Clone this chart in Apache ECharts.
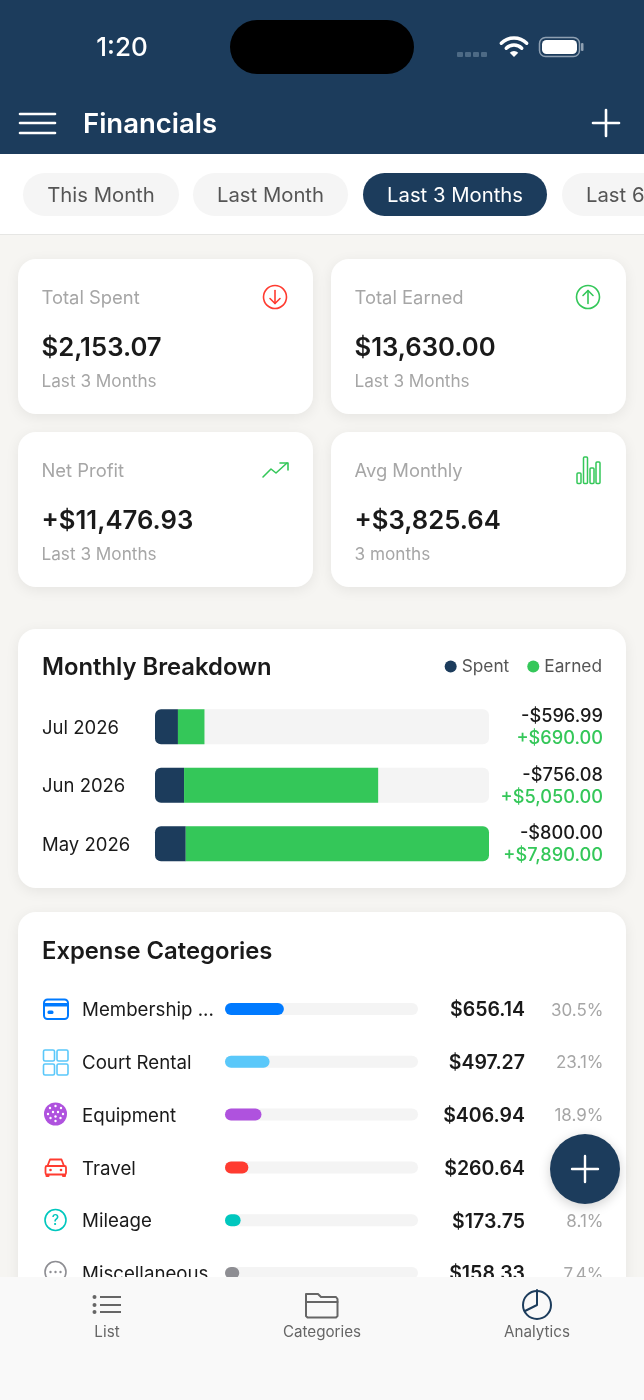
<!DOCTYPE html>
<html>

<head>
	<meta charset="utf-8">
	<title>Financials</title>
	<style type="text/css">
	html, body {
		margin: 0;
		padding: 0;
		background: #f6f5f2;
	}

	#main {
		width: 644px;
		height: 1400px;
	}
	</style>
</head>

<body>
	<div id="main"></div>
	<script src="https://cdn.jsdelivr.net/npm/echarts@6/dist/echarts.min.js"></script>
	<script>
	var months = ['Jul 2026', 'Jun 2026', 'May 2026'];
	var spentValues = [596.99, 756.08, 800.00];
	var earnedValues = [690.00, 5050.00, 7890.00];

	var categoryNames = ['Membership ...', 'Court Rental', 'Equipment', 'Travel', 'Mileage', 'Miscellaneous'];
	var categoryAmounts = [656.14, 497.27, 406.94, 260.64, 173.75, 158.33];
	var categoryPercents = [30.5, 23.1, 18.9, 12.1, 8.1, 7.4];
	var categoryColors = ['#007aff', '#5ac8fa', '#af52de', '#ff3b30', '#00c7be', '#8e8e93'];

	var pillLabels = ['This Month', 'Last Month', 'Last 3 Months', 'Last 6 Months'];
	var summaryLabels = ['Total Spent', 'Total Earned', 'Net Profit', 'Avg Monthly'];
	var summaryValues = ['$2,153.07', '$13,630.00', '+$11,476.93', '+$3,825.64'];
	var summaryNotes = ['Last 3 Months', 'Last 3 Months', 'Last 3 Months', '3 months'];
	var tabLabels = ['List', 'Categories', 'Analytics'];

	var NAVY = '#1c3c5c';
	var GREEN = '#34c759';
	var FONT = 'Inter, sans-serif';

	function money(v) {
		return '$' + v.toFixed(2).replace(/\B(?=(\d{3})+\.)/g, ',');
	}

	var els = [];

	function rect(x, y, w, h, r, fill, z, extra) {
		var style = { fill: fill };
		for (var k in extra) style[k] = extra[k];
		els.push({ type: 'rect', z: z, shape: { x: x, y: y, width: w, height: h, r: r }, style: style });
	}

	function text(str, x, y, font, fill, z, align) {
		// Inter sits a little high against the middle line
		els.push({
			type: 'text', z: z, x: x, y: y + 1.5,
			style: { text: str, font: font + ' ' + FONT, fill: fill, align: align || 'left', verticalAlign: 'middle' }
		});
	}

	function line(pts, color, w, z, cap) {
		els.push({
			type: 'polyline', z: z, shape: { points: pts },
			style: { stroke: color, lineWidth: w, fill: 'none', lineCap: cap || 'round', lineJoin: 'round' }
		});
	}

	function circle(cx, cy, r, fill, stroke, w, z) {
		els.push({
			type: 'circle', z: z, shape: { cx: cx, cy: cy, r: r },
			style: { fill: fill || 'none', stroke: stroke || 'none', lineWidth: w || 0 }
		});
	}

	function arc(cx, cy, r, a0, a1, color, w, z) {
		els.push({
			type: 'arc', z: z, shape: { cx: cx, cy: cy, r: r, startAngle: a0, endAngle: a1, clockwise: true },
			style: { stroke: color, lineWidth: w, fill: 'none', lineCap: 'round' }
		});
	}

	function strokeRect(x, y, w, h, r, color, lw, z) {
		rect(x, y, w, h, r, 'none', z, { stroke: color, lineWidth: lw });
	}

	// axis labels go through a rich token so the padding can nudge them down
	function tokenLabel(v) {
		return '{t|' + v + '}';
	}

	// page and header
	rect(0, 0, 644, 1400, 0, '#f6f5f2', -20);
	rect(0, 0, 644, 154, 0, NAVY, -10);
	rect(0, 154, 644, 80, 0, '#ffffff', -10);
	rect(0, 234, 644, 1, 0, '#e6e6e4', -10);

	// status bar
	text('1:20', 122, 47, '500 26px', '#ffffff', 5, 'center');
	rect(230, 20, 184, 54, 27, '#000000', 5);
	[457, 465, 473, 481].forEach(function (x) {
		rect(x, 52, 6, 5, 1, '#4d6a85', 5);
	});
	arc(514, 56, 18, -Math.PI * 0.75, -Math.PI * 0.25, '#ffffff', 3.4, 5);
	arc(514, 56, 11, -Math.PI * 0.75, -Math.PI * 0.25, '#ffffff', 3.4, 5);
	els.push({
		type: 'sector', z: 5,
		shape: { cx: 514, cy: 57, r: 6, startAngle: -Math.PI * 0.75, endAngle: -Math.PI * 0.25 },
		style: { fill: '#ffffff' }
	});
	strokeRect(539.5, 37.5, 40, 19, 6, '#8ea0b2', 1.5, 5);
	rect(542, 40, 35, 14, 4.5, '#ffffff', 5);
	rect(581, 43, 2.5, 8, 1, '#8ea0b2', 5);

	// app bar
	[114, 123, 133].forEach(function (y) {
		line([[20, y], [55, y]], '#ffffff', 2.6, 5);
	});
	text('Financials', 83, 123, '600 27.5px', '#ffffff', 5);
	line([[606, 110], [606, 136]], '#ffffff', 2.6, 5);
	line([[593, 123], [619, 123]], '#ffffff', 2.6, 5);

	// filter pills
	var pillX = [23, 193, 363, 562];
	var pillW = [156, 155, 184, 156];
	pillLabels.forEach(function (label, i) {
		var active = i === 2;
		rect(pillX[i], 173, pillW[i], 43, 21.5, active ? NAVY : '#f5f5f5', -5);
		if (i < 3) {
			text(label, pillX[i] + pillW[i] / 2, 194, '400 20.3px', active ? '#ffffff' : '#555555', 5, 'center');
		} else {
			text(label, pillX[i] + 24, 194, '400 20.3px', '#555555', 5);
		}
	});

	// summary cards
	var cardShadow = { shadowBlur: 14, shadowColor: 'rgba(0,0,0,0.07)', shadowOffsetY: 3 };
	var cardX = [18, 331];
	var cardY = [259, 432];
	summaryLabels.forEach(function (label, i) {
		var x = cardX[i % 2];
		var y = cardY[Math.floor(i / 2)];
		rect(x, y, 295, 155, 18, '#ffffff', -5, cardShadow);
		text(label, x + 23.5, y + 38, '400 18.4px', '#a6a6a6', 5);
		text(summaryValues[i], x + 23.5, y + 88, '600 25.7px', '#1a1a1a', 5);
		text(summaryNotes[i], x + 23.5, y + 121, '400 17.2px', '#a6a6a6', 5);
	});

	// summary icons
	circle(275, 297, 11.5, null, '#ff3b30', 1.6, 5);
	line([[275, 290.5], [275, 303.5]], '#ff3b30', 1.6, 5);
	line([[270, 298.5], [275, 303.5], [280, 298.5]], '#ff3b30', 1.6, 5);
	circle(588, 297, 11.5, null, GREEN, 1.6, 5);
	line([[588, 290.5], [588, 303.5]], GREEN, 1.6, 5);
	line([[583, 295.5], [588, 290.5], [593, 295.5]], GREEN, 1.6, 5);
	line([[263, 477], [271, 469], [276, 473], [287, 463]], GREEN, 1.6, 5);
	line([[280, 463], [288, 463], [288, 470]], GREEN, 1.6, 5);
	strokeRect(577, 473, 4, 10.5, 1, GREEN, 1.5, 5);
	strokeRect(583.5, 457, 4, 26.5, 1, GREEN, 1.5, 5);
	strokeRect(590, 468, 4, 15.5, 1, GREEN, 1.5, 5);
	strokeRect(596, 462, 4, 21.5, 1, GREEN, 1.5, 5);

	// breakdown and categories cards
	rect(18, 629, 608, 259, 18, '#ffffff', -5, cardShadow);
	rect(18, 912, 608, 420, 18, '#ffffff', -5, cardShadow);

	// category icons
	strokeRect(44, 999.5, 24, 19.5, 3.5, '#007aff', 2, 5);
	rect(44, 1003, 24, 3.5, 0, '#007aff', 5);
	rect(47.5, 1010.5, 6, 3.5, 1.5, '#007aff', 5);
	[[43.5, 1050], [57, 1050], [43.5, 1064], [57, 1064]].forEach(function (p) {
		strokeRect(p[0], p[1], 11, 11, 1.5, '#5ac8fa', 1.6, 5);
	});
	circle(55.5, 1114, 11.5, '#af52de', null, 0, 5);
	[[50, 1108], [55.5, 1106], [61, 1108], [48, 1114], [53, 1112], [58, 1112], [63, 1114], [50.5, 1118], [55.5, 1116.5], [60.5, 1118], [55.5, 1121]].forEach(function (p) {
		circle(p[0], p[1], 1.2, '#ffffff', null, 0, 6);
	});
	line([[47.5, 1166], [50, 1159.5], [61.5, 1159.5], [64, 1166]], '#ff3b30', 1.8, 5);
	strokeRect(45.5, 1166, 20.5, 8.5, 1.5, '#ff3b30', 1.8, 5);
	rect(45.5, 1174, 4, 3, 1, '#ff3b30', 5);
	rect(62, 1174, 4, 3, 1, '#ff3b30', 5);
	circle(50.5, 1170, 1.3, '#ff3b30', null, 0, 5);
	circle(61, 1170, 1.3, '#ff3b30', null, 0, 5);
	circle(55.5, 1220, 10.5, null, '#00c7be', 1.6, 5);
	text('?', 55.5, 1219, '500 14px', '#00c7be', 5, 'center');
	circle(55.5, 1272, 10.5, null, '#8e8e93', 1.6, 5);
	[50.5, 55.5, 60.5].forEach(function (x) {
		circle(x, 1272, 1.2, '#8e8e93', null, 0, 5);
	});

	// floating button
	els.push({
		type: 'circle', z: 50, shape: { cx: 585, cy: 1169, r: 35 },
		style: { fill: NAVY, shadowBlur: 12, shadowColor: 'rgba(0,0,0,0.18)', shadowOffsetY: 3 }
	});
	line([[585, 1156], [585, 1182]], '#ffffff', 2.4, 51);
	line([[572, 1169], [598, 1169]], '#ffffff', 2.4, 51);

	// bottom tab bar, sits over the clipped last row
	rect(0, 1277, 644, 123, 0, '#f9f9f9', 100);
	var tabX = [107, 322, 537];
	tabLabels.forEach(function (label, i) {
		text(label, tabX[i], 1330.5, '400 15.2px', '#666666', 101, 'center');
	});
	[1297, 1305, 1312].forEach(function (y) {
		circle(94.5, y, 2, '#666666', null, 0, 101);
		line([[100, y], [121, y]], '#666666', 2, 101, 'butt');
	});
	line([[306, 1296], [306, 1294], [318, 1294], [321, 1297], [336, 1297], [337.5, 1299], [337.5, 1316], [336, 1317.5], [307.5, 1317.5], [306, 1316], [306, 1296]], '#666666', 2, 101);
	line([[306, 1302], [337.5, 1302]], '#666666', 2, 101);
	circle(537, 1305, 14, null, NAVY, 2, 101);
	line([[537, 1290], [537, 1305], [525, 1311]], NAVY, 2, 101);

	var maxTotal = Math.max.apply(null, spentValues.map(function (v, i) {
		return v + earnedValues[i];
	}));

	var option = {
		animation: false,
		backgroundColor: 'transparent',
		title: [{
			text: 'Monthly Breakdown',
			left: 42,
			top: 656,
			padding: 0,
			textStyle: { fontFamily: 'Inter', fontSize: 23.8, fontWeight: 600, color: '#1a1a1a' }
		}, {
			text: 'Expense Categories',
			left: 42,
			top: 940,
			padding: 0,
			textStyle: { fontFamily: 'Inter', fontSize: 23.8, fontWeight: 600, color: '#1a1a1a' }
		}],
		legend: {
			data: ['Spent', 'Earned'],
			right: 42,
			top: 658,
			padding: 0,
			icon: 'circle',
			itemWidth: 12,
			itemHeight: 12,
			itemGap: 18,
			selectedMode: false,
			textStyle: { fontFamily: 'Inter', fontSize: 17.3, color: '#555555' }
		},
		grid: [
			{ left: 155, top: 697.5, width: 334, height: 175.5 },
			{ left: 225, top: 982.6, width: 193, height: 316.8 }
		],
		xAxis: [
			{ type: 'value', gridIndex: 0, min: 0, max: maxTotal, show: false },
			{ type: 'value', gridIndex: 1, min: 0, max: 100, show: false }
		],
		yAxis: [{
			type: 'category', gridIndex: 0, inverse: true, data: months,
			axisLine: { show: false }, axisTick: { show: false },
			axisLabel: {
				align: 'left', margin: 113, formatter: tokenLabel,
				rich: { t: { fontFamily: 'Inter', fontSize: 18.5, color: '#1a1a1a', padding: [3, 0, 0, 0] } }
			}
		}, {
			type: 'category', gridIndex: 0, inverse: true, position: 'right',
			data: spentValues.map(function (v, i) {
				return '{s|-' + money(v) + '}\n{e|+' + money(earnedValues[i]) + '}';
			}),
			axisLine: { show: false }, axisTick: { show: false },
			axisLabel: {
				align: 'right', margin: 114, padding: [2, 0, 0, 0],
				rich: {
					s: { fontFamily: 'Inter', fontSize: 18.2, fontWeight: 500, color: '#1a1a1a', lineHeight: 22, align: 'right' },
					e: { fontFamily: 'Inter', fontSize: 18.2, fontWeight: 500, color: GREEN, lineHeight: 22, align: 'right' }
				}
			}
		}, {
			type: 'category', gridIndex: 1, inverse: true, data: categoryNames,
			axisLine: { show: false }, axisTick: { show: false },
			axisLabel: {
				interval: 0, align: 'left', margin: 143, formatter: tokenLabel,
				rich: { t: { fontFamily: 'Inter', fontSize: 18.7, color: '#1a1a1a', padding: [3, 0, 0, 0] } }
			}
		}, {
			type: 'category', gridIndex: 1, inverse: true, position: 'right',
			data: categoryAmounts.map(money),
			axisLine: { show: false }, axisTick: { show: false },
			axisLabel: {
				interval: 0, align: 'right', margin: 107, formatter: tokenLabel,
				rich: { t: { fontFamily: 'Inter', fontSize: 19.5, fontWeight: 600, color: '#1a1a1a', padding: [3, 0, 0, 0] } }
			}
		}, {
			type: 'category', gridIndex: 1, inverse: true, position: 'right',
			data: categoryPercents.map(function (v) {
				return v.toFixed(1) + '%';
			}),
			axisLine: { show: false }, axisTick: { show: false },
			axisLabel: {
				interval: 0, align: 'right', margin: 185.5, formatter: tokenLabel,
				rich: { t: { fontFamily: 'Inter', fontSize: 17, color: '#a6a6a6', padding: [3, 0, 0, 0] } }
			}
		}],
		series: [{
			name: 'Spent',
			type: 'bar',
			stack: 'month',
			xAxisIndex: 0,
			yAxisIndex: 0,
			barWidth: 35,
			data: spentValues,
			showBackground: true,
			backgroundStyle: { color: '#f4f4f4', borderRadius: 6 },
			itemStyle: { color: NAVY, borderRadius: [6, 0, 0, 6] }
		}, {
			name: 'Earned',
			type: 'bar',
			stack: 'month',
			xAxisIndex: 0,
			yAxisIndex: 0,
			barWidth: 35,
			data: earnedValues.map(function (v, i) {
				var full = v + spentValues[i] >= maxTotal;
				return { value: v, itemStyle: { borderRadius: full ? [0, 6, 6, 0] : 0 } };
			}),
			itemStyle: { color: GREEN }
		}, {
			name: 'Share',
			type: 'bar',
			xAxisIndex: 1,
			yAxisIndex: 2,
			barWidth: 12,
			data: categoryPercents.map(function (v, i) {
				return { value: v, itemStyle: { color: categoryColors[i] } };
			}),
			showBackground: true,
			backgroundStyle: { color: '#f4f4f4', borderRadius: 6 },
			itemStyle: { borderRadius: 6 }
		}],
		graphic: { elements: els }
	};

	var myChart = echarts.init(document.getElementById('main'), null, { renderer: 'canvas' });
	myChart.setOption(option);
	</script>
</body>

</html>
